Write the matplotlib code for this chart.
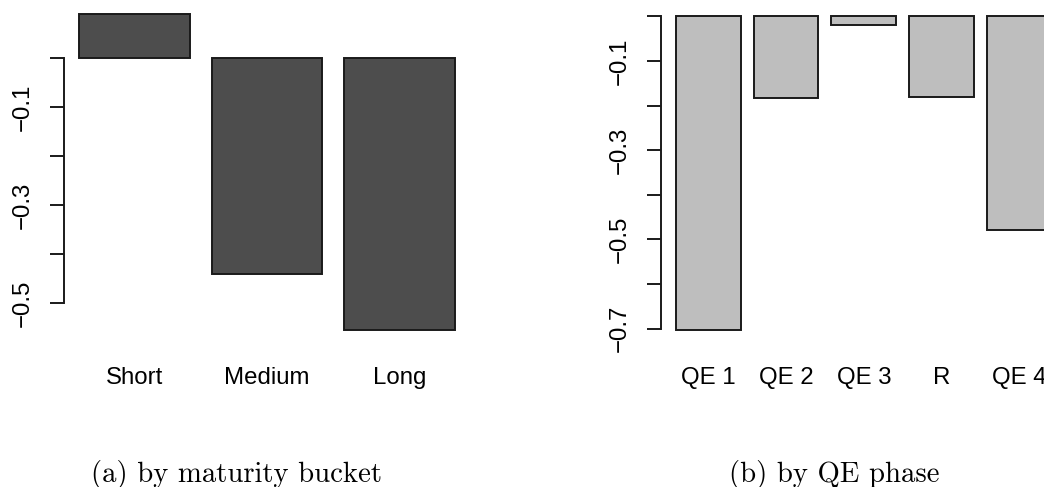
import matplotlib
matplotlib.use("Agg")
import matplotlib.pyplot as plt
import numpy as np

# effect estimates per maturity bucket and per QE phase
maturity = ["Short", "Medium", "Long"]
maturity_vals = [0.09, -0.44, -0.556]

phases = ["QE 1", "QE 2", "QE 3", "R", "QE 4"]
phase_vals = [-0.704, -0.1825, -0.019, -0.181, -0.478]

left_ticks = [0, -0.1, -0.2, -0.3, -0.4, -0.5]
left_labels = ["", "\u22120.1", "", "\u22120.3", "", "\u22120.5"]
right_ticks = [0, -0.1, -0.2, -0.3, -0.4, -0.5, -0.6, -0.7]
right_labels = ["", "\u22120.1", "", "\u22120.3", "", "\u22120.5", "", "\u22120.7"]

plt.rcParams["font.family"] = ["Liberation Sans", "DejaVu Sans"]

W, H = 1044, 487
fig = plt.figure(figsize=(W / 100, H / 100), dpi=100)


def rbar(ax, names, vals, color, ticks, labels):
    # base-R style barplot: width 1, space 0.2, 4% padded limits
    n = len(vals)
    left = 0.2 + 1.2 * np.arange(n)
    centers = left + 0.5
    ax.bar(centers, vals, width=1.0, color=color, edgecolor="#1a1a1a",
           linewidth=1.4)
    x0, x1 = left[0], left[-1] + 1
    pad = 0.04 * (x1 - x0)
    ax.set_xlim(x0 - pad, x1 + pad)
    lo, hi = min(min(vals), 0), max(max(vals), 0)
    pad = 0.04 * (hi - lo)
    ax.set_ylim(lo - pad, hi + pad)
    ax.set_xticks(centers)
    ax.set_xticklabels(names, fontsize=17.3)
    ax.tick_params(axis="x", length=0, pad=17)
    ax.set_yticks(ticks)
    ax.set_yticklabels(labels, fontsize=17.3, rotation=90, va="center")
    ax.tick_params(axis="y", length=10, width=1.4, pad=12, color="#1a1a1a")
    for s in ("top", "right", "bottom"):
        ax.spines[s].set_visible(False)
    ax.spines["left"].set_bounds(min(ticks), max(ticks))
    ax.spines["left"].set_linewidth(1.4)
    ax.spines["left"].set_color("#1a1a1a")


ax1 = fig.add_axes([64 / W, (H - 343) / H, 406 / W, 341.8 / H])
rbar(ax1, maturity, maturity_vals, "#4d4d4d", left_ticks, left_labels)

ax2 = fig.add_axes([661 / W, (H - 343) / H, 405.6 / W, 339.2 / H])
rbar(ax2, phases, phase_vals, "#bebebe", right_ticks, right_labels)

fig.text(236.5 / W, (H - 482) / H, "(a) by maturity bucket",
         fontfamily="cmr10", fontsize=20.7, ha="center", va="baseline")
fig.text(834 / W, (H - 482) / H, "(b) by QE phase",
         fontfamily="cmr10", fontsize=20.7, ha="center", va="baseline")

fig.savefig("out.png", dpi=100)
